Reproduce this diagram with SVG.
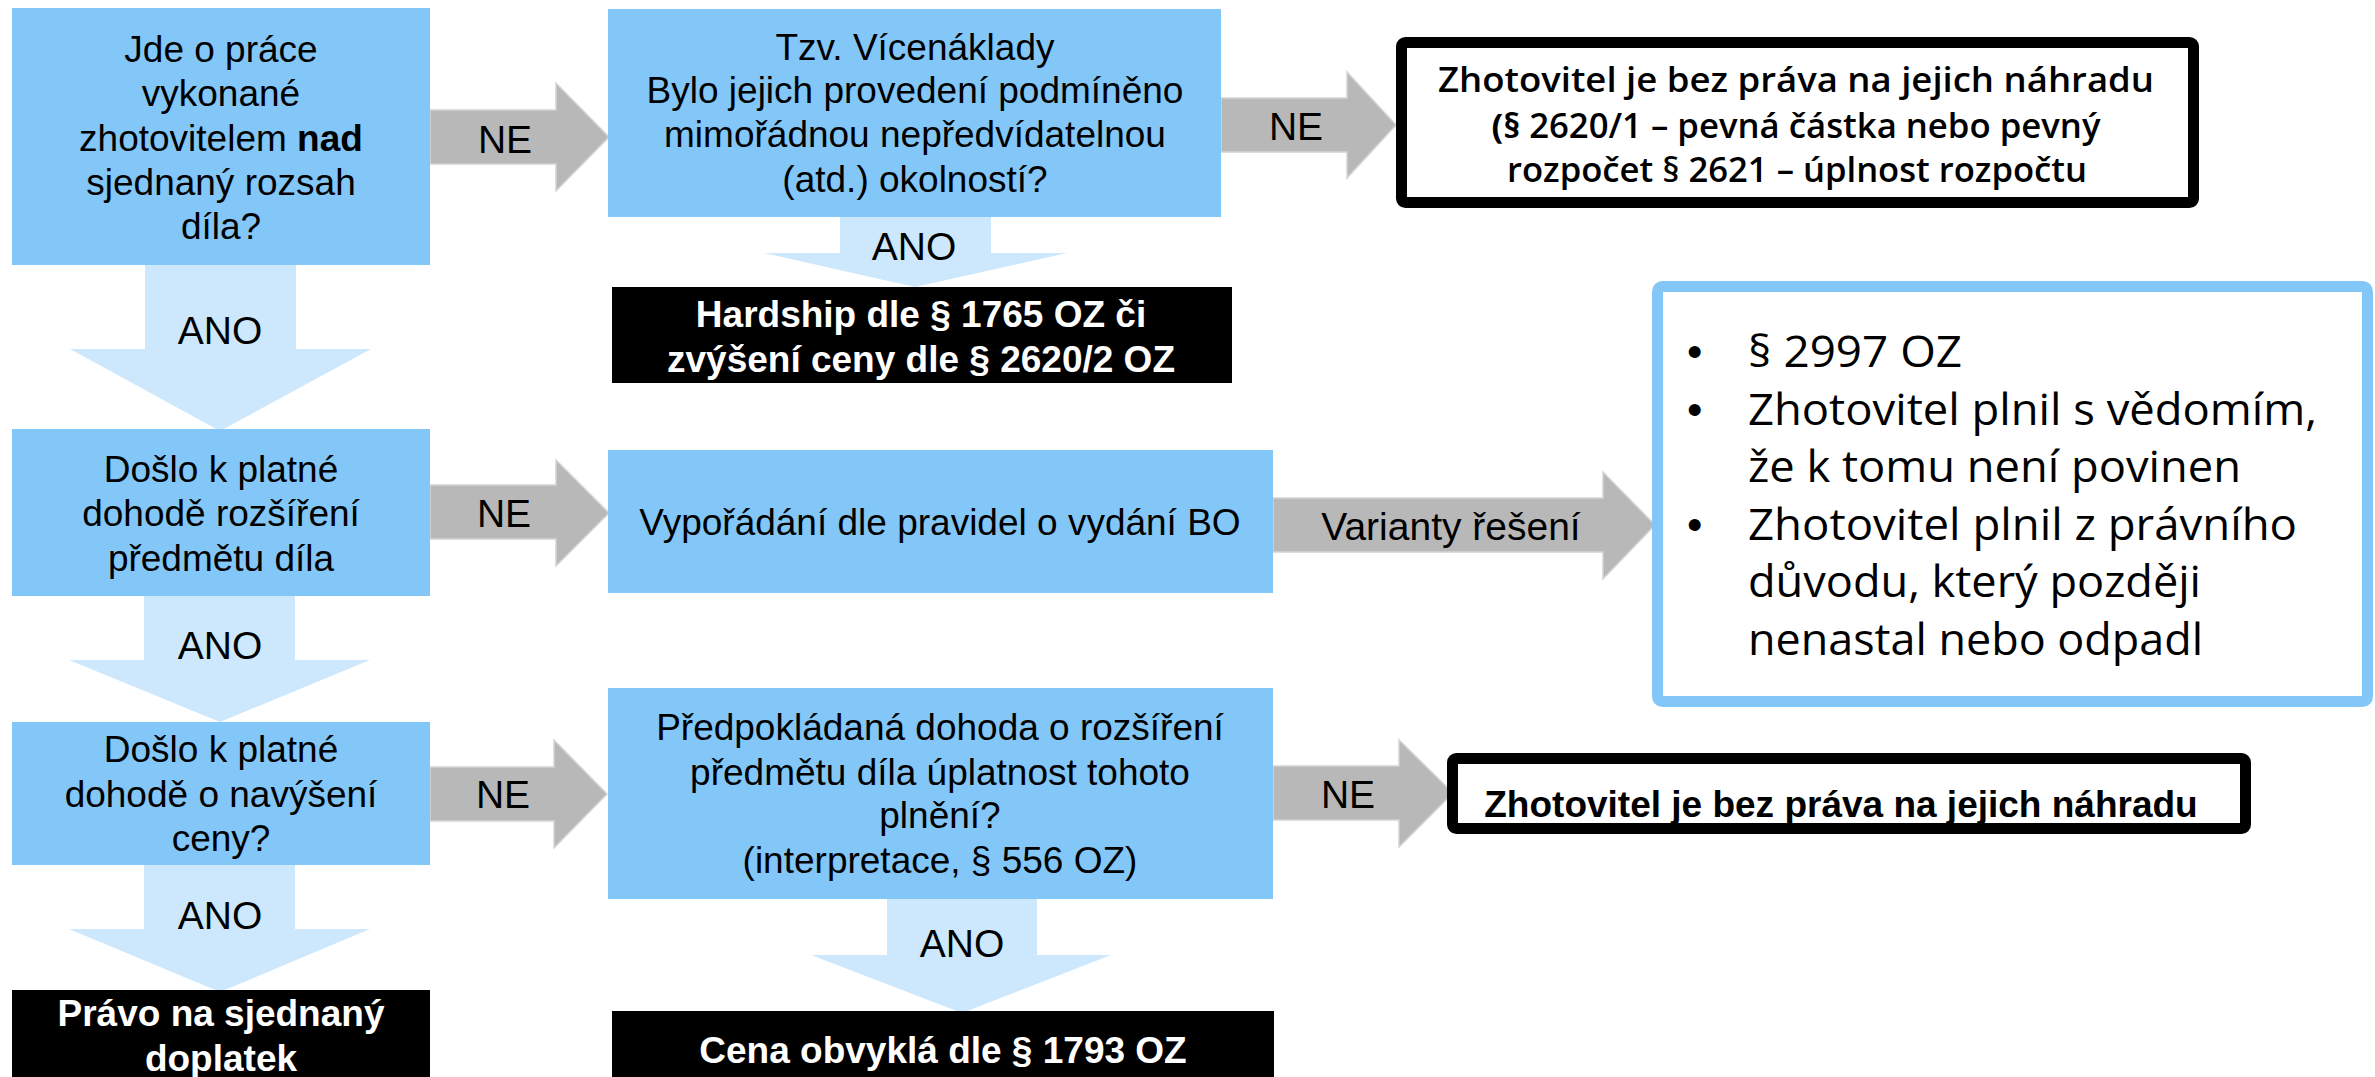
<svg xmlns="http://www.w3.org/2000/svg" width="2375" height="1077" viewBox="0 0 2375 1077">
<style>
.box{fill:#83C7F8}
.blk{fill:#000}
.frm{fill:#fff;stroke:#000;stroke-width:11}
.bfr{fill:#fff;stroke:#83C7F8;stroke-width:11}
.ga{fill:#B8B8B8;stroke:#D4D4D4;stroke-width:1.5}
.la{fill:#CDE8FC}
.t{font-family:"Liberation Sans",Arial,sans-serif;font-size:37px;fill:#000;text-anchor:middle}
.tw{font-family:"Liberation Sans",Arial,sans-serif;font-size:37px;font-weight:bold;fill:#fff;text-anchor:middle}
.tb{font-family:"Liberation Sans",Arial,sans-serif;font-size:37px;font-weight:bold;fill:#000;text-anchor:middle}
.lbl{font-family:"Liberation Sans",Arial,sans-serif;font-size:39px;fill:#000;text-anchor:middle}
.os{font-family:"Open Sans",sans-serif;font-size:34px;font-weight:600;fill:#000;text-anchor:middle}
.bl{font-family:"Open Sans",sans-serif;font-size:44px;fill:#000}
.bu{font-family:"Liberation Sans",Arial,sans-serif;font-size:44px;fill:#000}
</style>
<rect width="2375" height="1077" fill="#fff"/>
<g id="connectors">
  <polygon class="ga" points="430,110 556,110 556,83 609,137 556,191 556,164 430,164"/>
  <text class="lbl" x="505" y="153">NE</text>
  <polygon class="ga" points="1221,98 1347,98 1347,72 1396,125 1347,178 1347,152 1221,152"/>
  <text class="lbl" x="1296" y="140">NE</text>
  <polygon class="la" points="840,217 991,217 991,253 1067,253 915,287 764,253 840,253"/>
  <text class="lbl" x="914" y="260">ANO</text>
  <polygon class="la" points="145,265 296,265 296,349 371,349 220,431 70,349 145,349"/>
  <text class="lbl" x="220" y="344">ANO</text>
  <polygon class="ga" points="430,485 556,485 556,460 609,513 556,566 556,539 430,539"/>
  <text class="lbl" x="504" y="527">NE</text>
  <polygon class="ga" points="1273,498 1603,498 1603,472 1655,525 1603,579 1603,552 1273,552"/>
  <text class="lbl" x="1451" y="540">Varianty řešení</text>
  <polygon class="la" points="144,596 295,596 295,660 370,660 220,722 69,660 144,660"/>
  <text class="lbl" x="220" y="659">ANO</text>
  <polygon class="ga" points="430,767 554,767 554,740 607,794 554,848 554,821 430,821"/>
  <text class="lbl" x="503" y="808">NE</text>
  <polygon class="ga" points="1273,766 1399,766 1399,740 1453,793 1399,847 1399,820 1273,820"/>
  <text class="lbl" x="1348" y="808">NE</text>
  <polygon class="la" points="144,865 295,865 295,929 370,929 220,992 69,929 144,929"/>
  <text class="lbl" x="220" y="929">ANO</text>
  <polygon class="la" points="887,899 1037,899 1037,955 1111,955 962,1013 811,955 887,955"/>
  <text class="lbl" x="962" y="957">ANO</text>
</g>
<g id="n1">
  <rect class="box" x="12" y="8" width="418" height="257"/>
  <text class="t" x="221" y="62">Jde o práce</text>
  <text class="t" x="221" y="106">vykonané</text>
  <text class="t" x="221" y="151">zhotovitelem <tspan font-weight="bold">nad</tspan></text>
  <text class="t" x="221" y="195">sjednaný rozsah</text>
  <text class="t" x="221" y="239">díla?</text>
</g>
<g id="n2">
  <rect class="box" x="608" y="9" width="613" height="208"/>
  <text class="t" x="915" y="60">Tzv. Vícenáklady</text>
  <text class="t" x="915" y="103">Bylo jejich provedení podmíněno</text>
  <text class="t" x="915" y="147">mimořádnou nepředvídatelnou</text>
  <text class="t" x="915" y="192">(atd.) okolností?</text>
</g>
<g id="n3">
  <rect class="frm" x="1401.5" y="42.5" width="792" height="160" rx="4"/>
  <text class="os" x="1796" y="92" font-weight="bold" textLength="716" lengthAdjust="spacingAndGlyphs">Zhotovitel je bez práva na jejich náhradu</text>
  <text class="os" x="1796" y="138" textLength="609" lengthAdjust="spacingAndGlyphs"><tspan font-weight="bold">(§</tspan> 2620/1 – pevná částka nebo pevný</text>
  <text class="os" x="1797" y="182" textLength="580" lengthAdjust="spacingAndGlyphs">rozpočet § 2621 – úplnost rozpočtu</text>
</g>
<g id="n4">
  <rect class="blk" x="612" y="287" width="620" height="96"/>
  <text class="tw" x="921" y="327">Hardship dle § 1765 OZ či</text>
  <text class="tw" x="921" y="372">zvýšení ceny dle § 2620/2 OZ</text>
</g>
<g id="n5">
  <rect class="box" x="12" y="429" width="418" height="167"/>
  <text class="t" x="221" y="482">Došlo k platné</text>
  <text class="t" x="221" y="526">dohodě rozšíření</text>
  <text class="t" x="221" y="571">předmětu díla</text>
</g>
<g id="n6">
  <rect class="box" x="608" y="450" width="665" height="143"/>
  <text class="t" x="940" y="535">Vypořádání dle pravidel o vydání BO</text>
</g>
<g id="n7">
  <rect class="bfr" x="1657.5" y="286.5" width="710" height="415" rx="5"/>
  <text class="bu" x="1687" y="367">•</text>
  <text class="bl" x="1748" y="367" textLength="214" lengthAdjust="spacingAndGlyphs">§ 2997 OZ</text>
  <text class="bu" x="1687" y="425">•</text>
  <text class="bl" x="1748" y="425" textLength="569" lengthAdjust="spacingAndGlyphs">Zhotovitel plnil s vědomím,</text>
  <text class="bl" x="1748" y="482" textLength="493" lengthAdjust="spacingAndGlyphs">že k tomu není povinen</text>
  <text class="bu" x="1687" y="540">•</text>
  <text class="bl" x="1748" y="540" textLength="549" lengthAdjust="spacingAndGlyphs">Zhotovitel plnil z právního</text>
  <text class="bl" x="1748" y="597" textLength="453" lengthAdjust="spacingAndGlyphs">důvodu, který později</text>
  <text class="bl" x="1748" y="655" textLength="455" lengthAdjust="spacingAndGlyphs">nenastal nebo odpadl</text>
</g>
<g id="n8">
  <rect class="box" x="12" y="722" width="418" height="143"/>
  <text class="t" x="221" y="762">Došlo k platné</text>
  <text class="t" x="221" y="807">dohodě o navýšení</text>
  <text class="t" x="221" y="851">ceny?</text>
</g>
<g id="n9">
  <rect class="box" x="608" y="688" width="665" height="211"/>
  <text class="t" x="940" y="740">Předpokládaná dohoda o rozšíření</text>
  <text class="t" x="940" y="785">předmětu díla úplatnost tohoto</text>
  <text class="t" x="940" y="828">plnění?</text>
  <text class="t" x="940" y="873">(interpretace, § 556 OZ)</text>
</g>
<g id="n10">
  <rect class="frm" x="1452.5" y="758.5" width="793" height="70" rx="4"/>
  <text class="tb" x="1841" y="817">Zhotovitel je bez práva na jejich náhradu</text>
</g>
<g id="n11">
  <rect class="blk" x="12" y="990" width="418" height="87"/>
  <text class="tw" x="221" y="1026">Právo na sjednaný</text>
  <text class="tw" x="221" y="1071">doplatek</text>
</g>
<g id="n12">
  <rect class="blk" x="612" y="1011" width="662" height="66"/>
  <text class="tw" x="943" y="1063">Cena obvyklá dle § 1793 OZ</text>
</g>
</svg>
